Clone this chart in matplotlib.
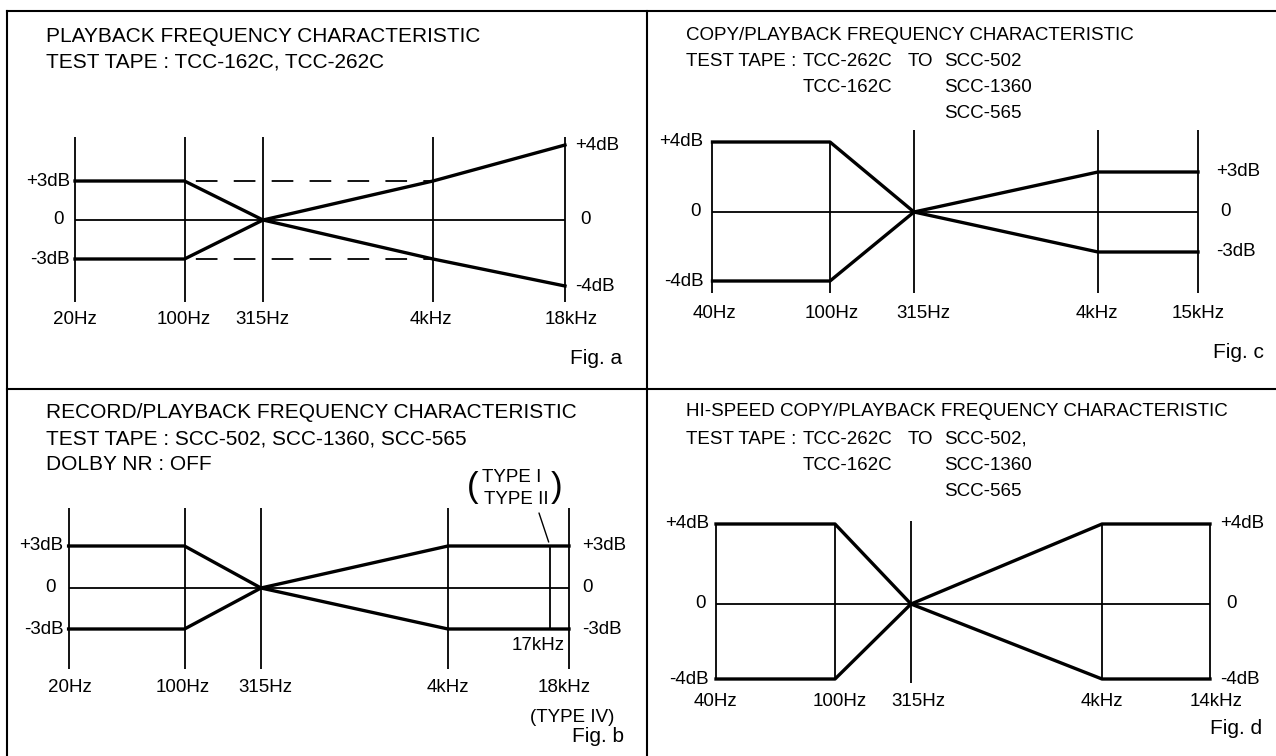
import numpy as np
import matplotlib
matplotlib.use("Agg")
import matplotlib.pyplot as plt
from matplotlib.transforms import blended_transform_factory

plt.rcParams['font.family'] = ['Liberation Sans', 'DejaVu Sans']

# ---------------- data (nominal dB limits per test frequency) ----------------
# Fig. a : playback
fa_freqs = [20, 100, 315, 4000, 18000]
fa_labels = ["20Hz", "100Hz", "315Hz", "4kHz", "18kHz"]
fa_upper = [3, 3, 0, 3, 4]
fa_lower = [-3, -3, 0, -3, -4]
fa_left = [3, 0, -3]
fa_left_txt = ["+3dB", "0", "-3dB"]
fa_right = [4, 0, -4]
fa_right_txt = ["+4dB", "0", "-4dB"]
fa_dash_freqs = [100, 4000]
fa_dash_levels = [3, -3]

# Fig. b : record/playback
fb_freqs = [20, 100, 315, 4000, 18000]
fb_labels = ["20Hz", "100Hz", "315Hz", "4kHz", "18kHz"]
fb_upper = [3, 3, 0, 3, 3]
fb_lower = [-3, -3, 0, -3, -3]
fb_left = [3, 0, -3]
fb_left_txt = ["+3dB", "0", "-3dB"]
fb_right = [3, 0, -3]
fb_right_txt = ["+3dB", "0", "-3dB"]
fb_mark_freq = 17000  # TYPE I / TYPE II upper limit

# Fig. c : copy/playback
fc_freqs = [40, 100, 315, 4000, 15000]
fc_labels = ["40Hz", "100Hz", "315Hz", "4kHz", "15kHz"]
fc_upper = [4, 4, 0, 3, 3]
fc_lower = [-4, -4, 0, -3, -3]
fc_left = [4, 0, -4]
fc_left_txt = ["+4dB", "0", "-4dB"]
fc_right = [3, 0, -3]
fc_right_txt = ["+3dB", "0", "-3dB"]

# Fig. d : hi-speed copy/playback
fd_freqs = [40, 100, 315, 4000, 14000]
fd_labels = ["40Hz", "100Hz", "315Hz", "4kHz", "14kHz"]
fd_upper = [4, 4, 0, 4, 4]
fd_lower = [-4, -4, 0, -4, -4]
fd_left = [4, 0, -4]
fd_left_txt = ["+4dB", "0", "-4dB"]
fd_right = [4, 0, -4]
fd_right_txt = ["+4dB", "0", "-4dB"]

# ---------------- layout (pixels of the schematic drawing) ----------------
W, H = 1276, 756
FS = 13.5      # axis labels, right-hand titles
FS_L = 15      # left-hand titles are set a bit wider on the sheet
THICK, THIN = 2.4, 1.3

fig = plt.figure(figsize=(W / 100, H / 100), dpi=100)
bg = fig.add_axes([0, 0, 1, 1], label="bg")
bg.set_xlim(0, W)
bg.set_ylim(H, 0)
bg.axis("off")

# frame and dividers
for xs, ys in [([7, W], [11, 11]), ([7, 7], [11, H]), ([647, 647], [11, H]), ([7, W], [389, 389])]:
    bg.plot(xs, ys, color="black", lw=1.5, clip_on=False)


def ramp(v, xp, fp):
    # piecewise linear map with straight extrapolation at both ends
    v = np.asarray(v, dtype=float)
    xp = np.asarray(xp, dtype=float)
    fp = np.asarray(fp, dtype=float)
    out = np.interp(v, xp, fp)
    lo = (fp[1] - fp[0]) / (xp[1] - xp[0])
    hi = (fp[-1] - fp[-2]) / (xp[-1] - xp[-2])
    out = np.where(v < xp[0], fp[0] + (v - xp[0]) * lo, out)
    out = np.where(v > xp[-1], fp[-1] + (v - xp[-1]) * hi, out)
    return out


def panel(name, col_px, lvl_db, lvl_px):
    # schematic axes: frequency columns and dB levels are drawn where the sheet puts them
    ax = fig.add_axes([0, 0, 1, 1], label=name, facecolor="none")
    fx = np.array(col_px[0], float)
    px = np.array(col_px[1], float)
    yd = np.array(lvl_db, float)
    py = H - np.array(lvl_px, float)
    ax.set_xscale("function", functions=(lambda v: ramp(v, fx, px), lambda p: ramp(p, px, fx)))
    ax.set_yscale("function", functions=(lambda v: ramp(v, yd, py), lambda p: ramp(p, py, yd)))
    ax.set_xlim(float(ramp(0, px, fx)), float(ramp(W, px, fx)))
    ax.set_ylim(float(ramp(0, py, yd)), float(ramp(H, py, yd)))
    ax.axis("off")
    ax.inv_y = lambda p: float(ramp(H - p, py, yd))
    return ax


def draw(ax, freqs, upper, lower, labels, left, left_txt, right, right_txt, lay):
    top_db = ax.inv_y(lay["box"][0])
    bot_db = ax.inv_y(lay["box"][1])
    tops = [u if c else top_db for u, c in zip(upper, lay["clip_top"])]
    bots = [l if c else bot_db for l, c in zip(lower, lay["clip_bot"])]
    ax.vlines(freqs, bots, tops, color="black", lw=THIN)
    ax.hlines(0, freqs[0], freqs[-1], color="black", lw=THIN)
    ax.plot(freqs, upper, color="black", lw=THICK, clip_on=False)
    ax.plot(freqs, lower, color="black", lw=THICK, clip_on=False)

    for v, t in zip(left, left_txt):
        if t == "0":
            ax.annotate(t, (freqs[0], v), xytext=(lay["l0"], 0), textcoords="offset pixels",
                        ha="center", va="center", fontsize=FS)
        else:
            ax.annotate(t, (freqs[0], v), xytext=(lay["l"], 0), textcoords="offset pixels",
                        ha="right", va="center", fontsize=FS)
    for v, t in zip(right, right_txt):
        dx = lay["r0"] if t == "0" else lay["r"]
        ax.annotate(t, (freqs[-1], v), xytext=(dx, 0), textcoords="offset pixels",
                    ha="left", va="center", fontsize=FS)

    tr = blended_transform_factory(ax.transData, bg.transData)
    for f, t, dx in zip(freqs, labels, lay["xdx"]):
        ax.annotate(t, (f, lay["xy"]), xycoords=tr, xytext=(dx, 0), textcoords="offset pixels",
                    ha="center", va="center", fontsize=FS)


# ---------- Fig. a ----------
bg.text(46, 36, "PLAYBACK FREQUENCY CHARACTERISTIC", fontsize=FS_L, va="center")
bg.text(46, 62, "TEST TAPE : TCC-162C, TCC-262C", fontsize=FS_L, va="center")
ax_a = panel("a", (fa_freqs, [75, 184.5, 263, 433, 565]),
             [-4, -3, 0, 3, 4], [286, 259, 220, 181, 145])
draw(ax_a, fa_freqs, fa_upper, fa_lower, fa_labels, fa_left, fa_left_txt, fa_right, fa_right_txt,
     dict(box=(137, 302), clip_top=[0] * 5, clip_bot=[0] * 5, l=-5, l0=-17, r=10, r0=15,
          xy=320, xdx=[0, -1, -1, -2, 6]))
for lv in fa_dash_levels:
    ax_a.plot(fa_dash_freqs, [lv, lv], color="black", lw=1.3, ls=(15, (12, 9)))
bg.text(622, 358, "Fig. a", fontsize=15, ha="right", va="center")

# ---------- Fig. c ----------
bg.text(686, 36, "COPY/PLAYBACK FREQUENCY CHARACTERISTIC", fontsize=FS, va="center")
bg.text(686, 62, "TEST TAPE : ", fontsize=FS, va="center")
bg.text(803, 62, "TCC-262C", fontsize=FS, va="center")
bg.text(908, 62, "TO", fontsize=FS, va="center")
bg.text(944, 62, "SCC-502", fontsize=FS, va="center")
bg.text(803, 88, "TCC-162C", fontsize=FS, va="center")
bg.text(944, 88, "SCC-1360", fontsize=FS, va="center")
bg.text(944, 114, "SCC-565", fontsize=FS, va="center")
ax_c = panel("c", (fc_freqs, [712.5, 830, 914, 1098, 1198]),
             [-4, -3, 0, 3, 4], [281, 252, 212, 172, 142])
draw(ax_c, fc_freqs, fc_upper, fc_lower, fc_labels, fc_left, fc_left_txt, fc_right, fc_right_txt,
     dict(box=(130, 293), clip_top=[1, 1, 0, 0, 0], clip_bot=[0] * 5, l=-9, l0=-17, r=18, r0=22,
          xy=313, xdx=[2, 2, 9, -1, 0]))
bg.text(1264, 352, "Fig. c", fontsize=15, ha="right", va="center")

# ---------- Fig. b ----------
bg.text(46, 412, "RECORD/PLAYBACK FREQUENCY CHARACTERISTIC", fontsize=FS_L, va="center")
bg.text(46, 439, "TEST TAPE : SCC-502, SCC-1360, SCC-565", fontsize=FS_L, va="center")
bg.text(46, 465, "DOLBY NR : OFF", fontsize=FS_L, va="center")
ax_b = panel("b", (fb_freqs[:4] + [fb_mark_freq, fb_freqs[4]], [68.6, 184.5, 261, 448, 550, 569]),
             [-3, 0, 3], [629, 588, 546])
draw(ax_b, fb_freqs, fb_upper, fb_lower, fb_labels, fb_left, fb_left_txt, fb_right, fb_right_txt,
     dict(box=(508, 669), clip_top=[0] * 5, clip_bot=[0] * 5, l=-5, l0=-18, r=13, r0=13,
          xy=687, xdx=[1, -2, 4, 0, -5]))
mark_hi = float(np.interp(fb_mark_freq, fb_freqs, fb_upper))
mark_lo = float(np.interp(fb_mark_freq, fb_freqs, fb_lower))
ax_b.vlines(fb_mark_freq, mark_lo, mark_hi, color="black", lw=THIN)
ax_b.annotate("17kHz", (fb_mark_freq, mark_lo), xytext=(-12, -17), textcoords="offset pixels",
              ha="center", va="center", fontsize=FS)
ax_b.annotate("", (fb_mark_freq, mark_hi), xytext=(-11, 33), textcoords="offset pixels",
              arrowprops=dict(arrowstyle="-", color="black", lw=1.0, shrinkA=0, shrinkB=3))
bg.text(512, 478, "TYPE I", fontsize=FS, ha="center", va="center")
bg.text(516, 499, "TYPE II", fontsize=FS, ha="center", va="center")
bg.text(473, 487, "(", fontsize=25, ha="center", va="center")
bg.text(557, 487, ")", fontsize=25, ha="center", va="center")
bg.text(572, 718, "(TYPE IV)", fontsize=FS, ha="center", va="center")
bg.text(624, 737, "Fig. b", fontsize=15, ha="right", va="center")

# ---------- Fig. d ----------
bg.text(686, 412, "HI-SPEED COPY/PLAYBACK FREQUENCY CHARACTERISTIC", fontsize=FS, va="center")
bg.text(686, 439, "TEST TAPE : ", fontsize=FS, va="center")
bg.text(803, 439, "TCC-262C", fontsize=FS, va="center")
bg.text(908, 439, "TO", fontsize=FS, va="center")
bg.text(944, 439, "SCC-502,", fontsize=FS, va="center")
bg.text(803, 465, "TCC-162C", fontsize=FS, va="center")
bg.text(944, 465, "SCC-1360", fontsize=FS, va="center")
bg.text(944, 491, "SCC-565", fontsize=FS, va="center")
ax_d = panel("d", (fd_freqs, [716, 835, 911, 1102, 1210]),
             [-4, 0, 4], [679, 604, 524])
draw(ax_d, fd_freqs, fd_upper, fd_lower, fd_labels, fd_left, fd_left_txt, fd_right, fd_right_txt,
     dict(box=(521, 683), clip_top=[1, 1, 0, 1, 1], clip_bot=[1, 1, 0, 1, 1], l=-7, l0=-15, r=10, r0=16,
          xy=701, xdx=[-1, 5, 7, 0, 6]))
bg.text(1262, 729, "Fig. d", fontsize=15, ha="right", va="center")

fig.savefig("out.png", dpi=100)
